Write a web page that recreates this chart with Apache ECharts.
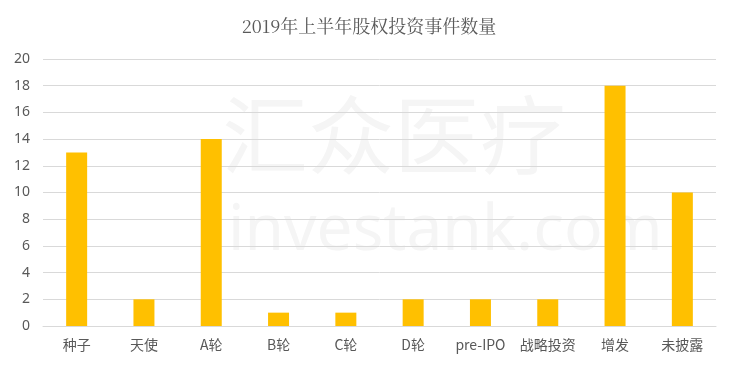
<!DOCTYPE html>
<html><head><meta charset="utf-8">
<script src="https://cdn.jsdelivr.net/npm/echarts@6/dist/echarts.min.js"></script>
<style>html,body{margin:0;padding:0;background:#fff}#c{width:738px;height:370px}</style>
</head><body><div id="c"></div>
<script>
const categories = ['种子','天使','A轮','B轮','C轮','D轮','pre-IPO','战略投资','增发','未披露'];
const counts = [13, 2, 14, 1, 1, 2, 2, 2, 18, 10];
const titleText = '2019年上半年股权投资事件数量';

const chart = echarts.init(document.getElementById('c'));
chart.setOption({
  animation: false,
  backgroundColor: '#fff',
  title: {
    text: titleText, left: 'center', top: 12,
    textStyle: { fontFamily: '"Noto Serif CJK SC","Noto Sans CJK SC",serif', fontWeight: 'normal', fontSize: 18, color: '#595959' }
  },
  graphic: [
    { type: 'text', z: -10, left: 222, top: 92, style: { text: '汇众医疗', font: '86px "Noto Sans CJK SC"', fill: '#f5f5f5' } },
    { type: 'text', z: -10, left: 228, top: 200, style: { text: 'investank.com', font: '64px "Noto Sans", sans-serif', fill: '#f5f5f5' } }
  ],
  grid: { left: 43, right: 22, top: 59, bottom: 44 },
  xAxis: {
    type: 'category', data: categories,
    axisLine: { lineStyle: { color: '#d9d9d9' } },
    axisTick: { show: false },
    axisLabel: { interval: 0, color: '#595959', fontSize: 14, margin: 12, fontFamily: '"Noto Sans CJK SC", sans-serif' }
  },
  yAxis: {
    type: 'value', min: 0, max: 20, interval: 2,
    axisLine: { show: false }, axisTick: { show: false },
    splitLine: { lineStyle: { color: '#d9d9d9' } },
    axisLabel: { color: '#595959', fontSize: 14, margin: 13, fontFamily: '"Noto Sans", sans-serif' }
  },
  series: [{
    type: 'bar', data: counts, barWidth: 21,
    itemStyle: { color: '#FFC000' }
  }]
});
</script></body></html>
